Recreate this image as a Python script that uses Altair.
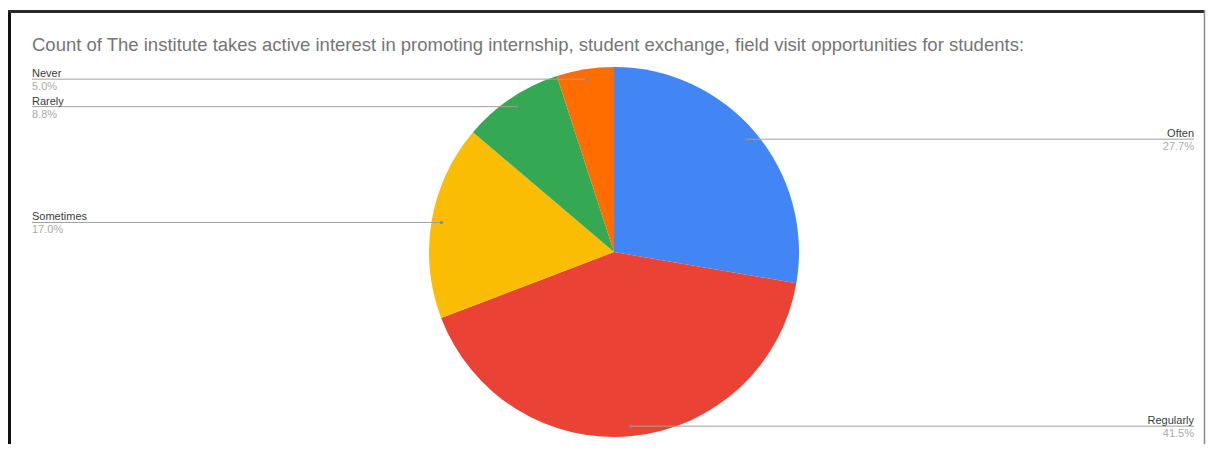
import altair as alt
import pandas as pd

# ---- data ----
categories = ["Often", "Regularly", "Sometimes", "Rarely", "Never"]
percents = [27.7, 41.5, 17.0, 8.8, 5.0]
colors = ["#4285F4", "#EA4335", "#FBBC04", "#34A853", "#FF6D01"]
title_text = ("Count of The institute takes active interest in promoting internship, "
              "student exchange, field visit opportunities for students:")

# ---- layout ----
W, H = 1198, 436
CX, CY, R = 606, 244, 185
DOT_R = 0.946
LEFT_X = (24 - CX) / R
RIGHT_X = (1186 - CX) / R
FONT = "Liberation Sans"

df = pd.DataFrame({"category": categories, "pct": percents,
                   "order": list(range(len(categories)))})

xs = alt.Scale(domain=[-1, 1], range=[CX - R, CX + R], nice=False, zero=False)
ys = alt.Scale(domain=[-1, 1], range=[CY + R, CY - R], nice=False, zero=False)

pie = alt.Chart(df).mark_arc(outerRadius=R).encode(
    theta=alt.Theta("pct:Q", stack=True),
    color=alt.Color("category:N", scale=alt.Scale(domain=categories, range=colors), legend=None),
    order=alt.Order("order:Q"),
    x=alt.value(CX),
    y=alt.value(CY),
)

geo = alt.Chart(df).transform_window(
    cum="sum(pct)", sort=[alt.SortField("order")], frame=[None, 0]
).transform_calculate(
    ang="(datum.cum - datum.pct/2)/100*2*PI"
).transform_calculate(
    dx=f"{DOT_R}*sin(datum.ang)",
    dy=f"{DOT_R}*cos(datum.ang)",
    side="sin(datum.ang) < 0 ? 'left' : 'right'",
    lx=f"sin(datum.ang) < 0 ? {LEFT_X} : {RIGHT_X}",
    ptxt="format(datum.pct, '.1f') + '%'",
)

X_l = alt.X("lx:Q", scale=xs, axis=None)
Y_d = alt.Y("dy:Q", scale=ys, axis=None)

rules = geo.mark_rule(color="#a0a0a0", strokeWidth=1).encode(
    x=X_l, x2="dx:Q", y=Y_d
)
dots = geo.mark_circle(size=12, color="#8a8a8a", opacity=1).encode(
    x=alt.X("dx:Q", scale=xs, axis=None), y=Y_d
)

def labels(side, align):
    g = geo.transform_filter(f"datum.side == '{side}'")
    name = g.mark_text(align=align, baseline="alphabetic", dy=-2, fontSize=11,
                       color="#3c3c3c", font=FONT).encode(x=X_l, y=Y_d, text="category:N")
    pct = g.mark_text(align=align, baseline="top", dy=2, fontSize=11,
                      color="#ababab", font=FONT).encode(x=X_l, y=Y_d, text="ptxt:N")
    return [name, pct]

one = pd.DataFrame({"t": [title_text]})
title = alt.Chart(one).mark_text(align="left", baseline="alphabetic", fontSize=18.5,
                                 color="#757575", font=FONT).encode(
    x=alt.value(24), y=alt.value(43), text="t:N")

frame_left = alt.Chart(one).mark_rule(color="#111111", strokeWidth=3).encode(
    x=alt.value(1.5), y=alt.value(2), y2=alt.value(H))
frame_top = alt.Chart(one).mark_rule(color="#2a2a2a", strokeWidth=3).encode(
    x=alt.value(0), x2=alt.value(W - 1), y=alt.value(3.5))
frame_right = alt.Chart(one).mark_rule(color="#8a8a8a", strokeWidth=1.5).encode(
    x=alt.value(W - 1.5), y=alt.value(2), y2=alt.value(H))

chart = alt.layer(
    frame_left, frame_top, frame_right, pie, rules, dots,
    *labels("left", "left"), *labels("right", "right"), title
).properties(
    width=W, height=H, padding=0,
    autosize=alt.AutoSizeParams(type="none"),
).configure_view(stroke=None)

chart.save("out.html", embed_options={"renderer": "svg", "actions": False})
